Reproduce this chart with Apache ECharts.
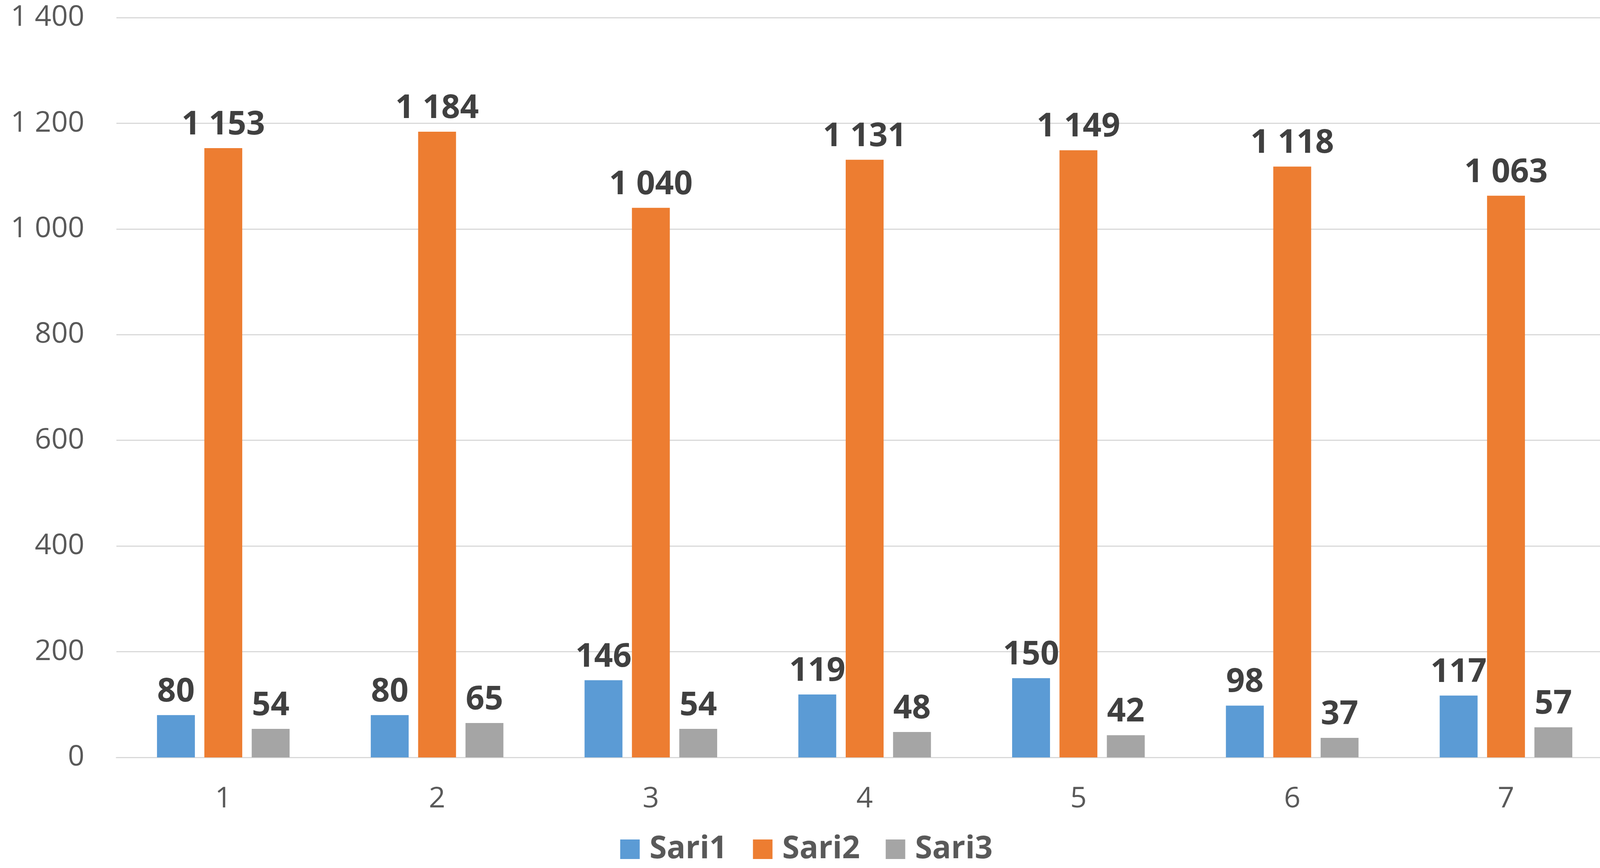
<!DOCTYPE html>
<html>
<head>
<meta charset="utf-8">
<style>
  html, body { margin: 0; padding: 0; background: #ffffff; }
  #chart { width: 4129px; height: 2221px; }
</style>
<script src="https://cdn.jsdelivr.net/npm/echarts@6/dist/echarts.min.js"></script>
</head>
<body>
<div id="chart"></div>
<script>
const categories = ['1', '2', '3', '4', '5', '6', '7'];
const sari1 = [80, 80, 146, 119, 150, 98, 117];
const sari2 = [1153, 1184, 1040, 1131, 1149, 1118, 1063];
const sari3 = [54, 65, 54, 48, 42, 37, 57];
const seriesNames = ['Sari1', 'Sari2', 'Sari3'];
const colors = ['#5B9BD5', '#ED7D31', '#A5A5A5'];

const FONT = '"Open Sans", "Noto Sans", sans-serif';
function fmt(v) {
  return String(v).replace(/\B(?=(\d{3})+(?!\d))/g, ' ');
}

const chart = echarts.init(document.getElementById('chart'));
function makeSeries(name, data, color) {
  return {
    name: name,
    type: 'bar',
    data: data,
    barWidth: 97,
    barGap: '25%',
    itemStyle: { color: color },
    label: {
      show: true,
      position: 'top',
      distance: 17,
      color: '#404040',
      fontFamily: FONT,
      fontWeight: 'bold',
      fontSize: 84,
      formatter: p => fmt(p.value)
    }
  };
}
chart.setOption({
  animation: false,
  backgroundColor: '#ffffff',
  color: colors,
  textStyle: { fontFamily: FONT },
  grid: { left: 298, right: 0, top: 45, bottom: 283, containLabel: false },
  legend: {
    data: seriesNames,
    left: 'center',
    top: 2128,
    icon: 'rect',
    itemWidth: 50,
    itemHeight: 50,
    itemGap: 66,
    textStyle: {
      color: '#595959',
      fontFamily: FONT,
      fontWeight: 'bold',
      fontSize: 80,
      padding: [0, 0, 0, 20]
    }
  },
  xAxis: {
    type: 'category',
    data: categories,
    axisLine: { show: true, lineStyle: { color: '#D9D9D9', width: 3 } },
    axisTick: { show: false },
    axisLabel: { color: '#595959', fontFamily: FONT, fontSize: 74, margin: 70 }
  },
  yAxis: {
    type: 'value',
    min: 0,
    max: 1400,
    interval: 200,
    axisLine: { show: false },
    axisTick: { show: false },
    splitLine: { lineStyle: { color: '#D9D9D9', width: 3 } },
    axisLabel: {
      color: '#595959',
      fontFamily: FONT,
      fontSize: 74,
      margin: 82,
      formatter: v => fmt(v)
    }
  },
  series: [
    makeSeries(seriesNames[0], sari1, colors[0]),
    makeSeries(seriesNames[1], sari2, colors[1]),
    makeSeries(seriesNames[2], sari3, colors[2])
  ]
});
</script>
</body>
</html>
